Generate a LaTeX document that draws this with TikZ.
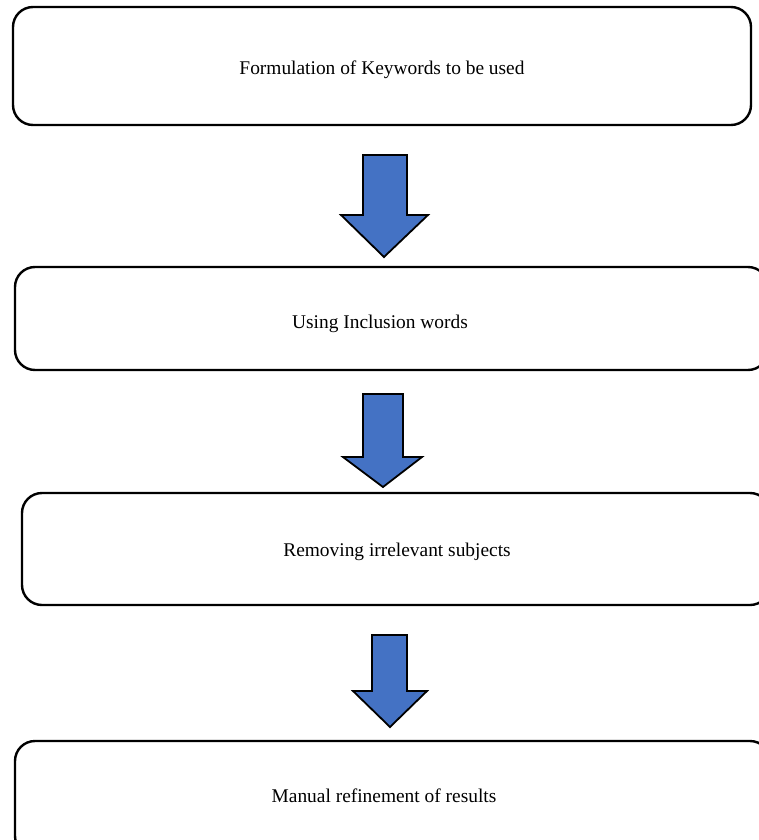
\documentclass[tikz,border=0pt]{standalone}
\usepackage{fontspec}
\setmainfont{Liberation Serif}
\definecolor{arrowblue}{HTML}{4472C4}
\begin{document}
\begin{tikzpicture}[x=1pt,y=-1pt,
  stagebox/.style={draw=black,line width=2.4pt,rounded corners=20pt},
  stagelabel/.style={font=\fontsize{19.4}{23}\selectfont},
  blockarrow/.style={draw=black,line width=1.8pt,fill=arrowblue,line join=miter}]
\useasboundingbox (0,0) rectangle (759,840);

% process stages
\draw[stagebox] (13,7) rectangle (751,125);
\node[stagelabel] (s1) at (382,70) {Formulation of Keywords to be used};

\draw[stagebox] (15,267) rectangle (768,370);
\node[stagelabel] (s2) at (380,324) {Using Inclusion words};

\draw[stagebox] (22,493) rectangle (770,605);
\node[stagelabel] (s3) at (397,552) {Removing irrelevant subjects};

\draw[stagebox] (15,741) rectangle (770,856);
\node[stagelabel] (s4) at (384,796) {Manual refinement of results};

% block arrows between stages
\draw[blockarrow] (363,155) -- (407,155) -- (407,215) -- (428,215) -- (384,257)
  -- (341,215) -- (363,215) -- cycle;
\draw[blockarrow] (363,394) -- (403,394) -- (403,457) -- (422,457) -- (383,487)
  -- (343,457) -- (363,457) -- cycle;
\draw[blockarrow] (372,635) -- (407,635) -- (407,691) -- (427,691) -- (390,727)
  -- (353,691) -- (372,691) -- cycle;
\end{tikzpicture}
\end{document}
